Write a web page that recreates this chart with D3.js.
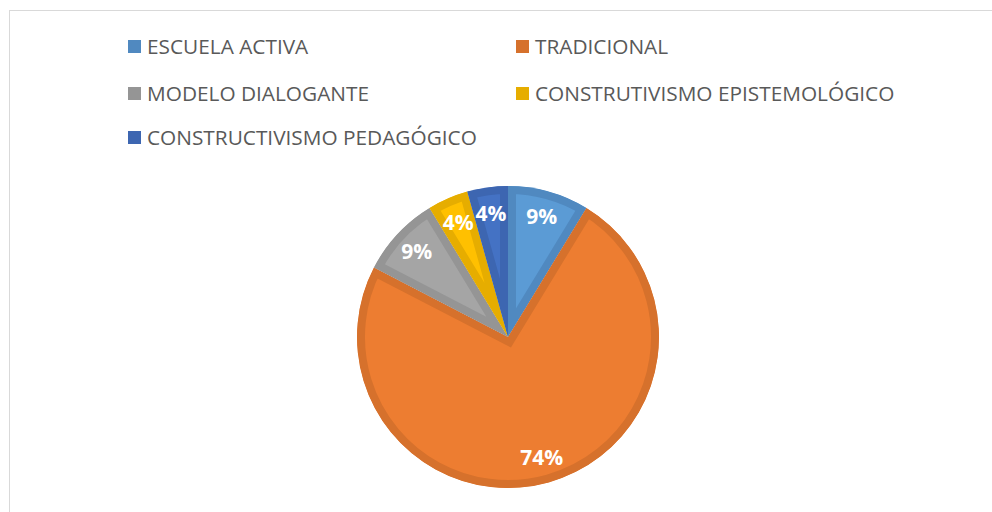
<!DOCTYPE html>
<html>
<head>
<meta charset="utf-8">
<script src="https://cdn.jsdelivr.net/npm/d3@7"></script>
<style>
  body { margin: 0; background: #fff; }
  svg { display: block; }
</style>
</head>
<body>
<svg width="992" height="512"></svg>
<script>
// counts per model (reads as 9%, 74%, 9%, 4%, 4%)
const categories = ["ESCUELA ACTIVA", "TRADICIONAL", "MODELO DIALOGANTE", "CONSTRUTIVISMO EPISTEMOLÓGICO", "CONSTRUCTIVISMO PEDAGÓGICO"];
const values = [2, 17, 2, 1, 1];
const fills = ["#5B9BD5", "#ED7D31", "#A5A5A5", "#FFC000", "#4472C4"];
const strokes = ["#5089C0", "#D6712C", "#959595", "#E6AD00", "#3D66B1"];

let svg = d3.select("svg");

// chart frame
svg.append("rect")
  .attr("x", 9.5).attr("y", 10.5)
  .attr("width", 1000).attr("height", 520)
  .attr("fill", "none")
  .attr("stroke", "#d9d9d9");

// legend
let legendPos = [[128, 47], [516, 47], [128, 94], [516, 94], [128, 138]];
let legend = svg.selectAll("g.legend")
  .data(categories)
  .enter().append("g")
  .attr("class", "legend")
  .attr("transform", (d, i) => `translate(${legendPos[i][0]}, ${legendPos[i][1]})`);

legend.append("rect")
  .attr("x", 0).attr("y", -7)
  .attr("width", 13).attr("height", 13)
  .attr("fill", (d, i) => strokes[i]);

legend.append("text")
  .attr("x", 19)
  .attr("y", 0)
  .attr("dy", "0.35em")
  .attr("font-family", "Open Sans, sans-serif")
  .attr("font-size", 20.8)
  .attr("fill", "#595959")
  .text(d => d);

// pie
let cx = 508, cy = 337, radius = 151;
let total = d3.sum(values);
let pie = d3.pie().sort(null).value(d => d);
let arc = d3.arc().innerRadius(0).outerRadius(radius);
let labelArc = d3.arc().innerRadius(125).outerRadius(125);

let g = svg.append("g").attr("transform", `translate(${cx}, ${cy})`);
let slices = pie(values);

let defs = svg.append("defs");
defs.selectAll("clipPath")
  .data(slices)
  .enter().append("clipPath")
  .attr("id", (d, i) => "slice" + i)
  .append("path")
  .attr("d", arc);

// outline drawn inside each slice only
g.selectAll("path.slice")
  .data(slices)
  .enter().append("path")
  .attr("class", "slice")
  .attr("d", arc)
  .attr("clip-path", (d, i) => `url(#slice${i})`)
  .attr("fill", (d, i) => fills[i])
  .attr("stroke", (d, i) => strokes[i])
  .attr("stroke-width", 16)
  .attr("stroke-linejoin", "miter");

g.selectAll("text")
  .data(slices)
  .enter().append("text")
  .attr("transform", d => `translate(${labelArc.centroid(d)})`)
  .attr("text-anchor", "middle")
  .attr("dy", "0.35em")
  .attr("font-family", "Open Sans, sans-serif")
  .attr("font-weight", "bold")
  .attr("font-size", 21)
  .attr("fill", "#fff")
  .text(d => Math.round(d.value / total * 100) + "%");
</script>
</body>
</html>
